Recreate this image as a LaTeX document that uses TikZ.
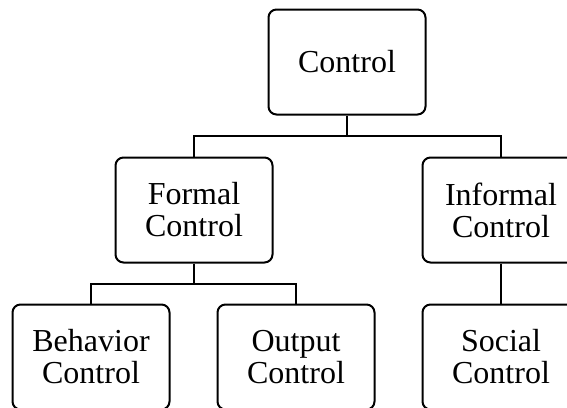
\documentclass[tikz,border=0pt]{standalone}
\usepackage{fontspec}
\setmainfont{Liberation Serif}
\usepackage{tikz}
\usetikzlibrary{positioning,calc}
\tikzset{%
  control box/.style={%
    draw,
    line width=1pt,
    rounded corners=4pt,
    minimum width=78.5pt,
    minimum height=52.5pt,
    align=center,
    inner sep=0pt,
    font=\fontsize{16}{16}\selectfont
  }
}
\tikzset{%
  tree link/.style={%
    line width=1pt
  }
}

\begin{document}
\begin{tikzpicture}[x=0.5pt,y=-0.5pt]
  \useasboundingbox (0,0) rectangle (567,407);
  \clip (0,0) rectangle (567,407);
  \node[control box] (control) at (347, 62) {Control};
  \node[control box] (formal) at (194, 210) {Formal\\Control};
  \node[control box] (informal) at (501, 210) {Informal\\Control};
  \node[control box] (behavior) at (91, 357) {Behavior\\Control};
  \node[control box] (output) at (296, 357) {Output\\Control};
  \node[control box] (social) at (501, 357) {Social\\Control};
  \coordinate (top split) at (347, 136);
  \coordinate (formal split) at (194, 284);
  \draw [tree link] (control.south) -- (top split) -| (formal.north);
  \draw [tree link] (top split) -| (informal.north);
  \draw [tree link] (formal.south) -- (formal split) -| (behavior.north);
  \draw [tree link] (formal split) -| (output.north);
  \draw [tree link] (informal.south) -- (social.north);
\end{tikzpicture}
\end{document}
